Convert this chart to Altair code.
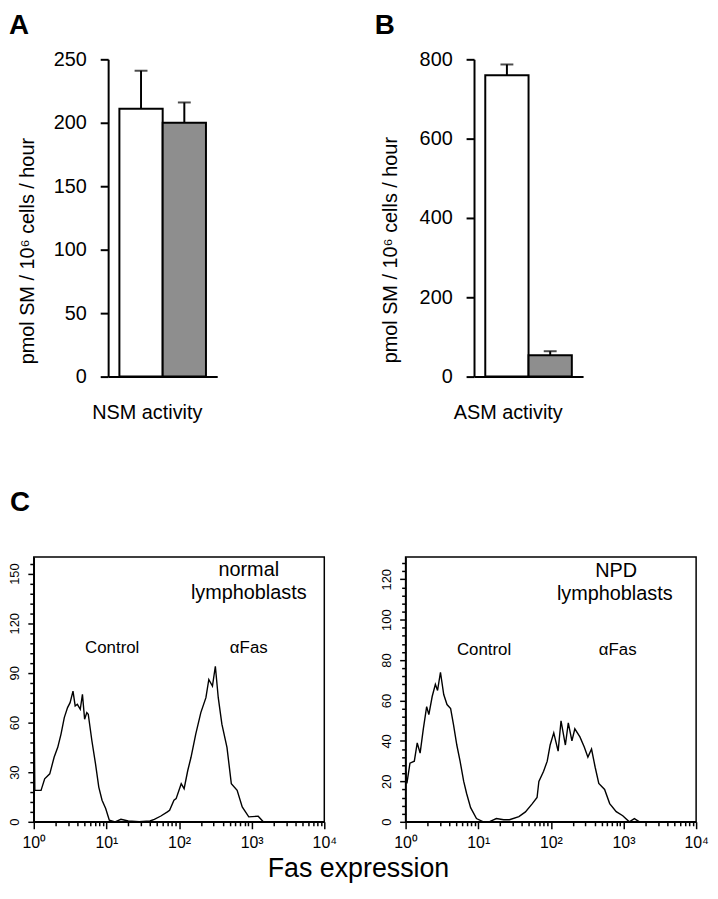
import altair as alt
import pandas as pd

FONT = "Liberation Sans, Arial, Helvetica, sans-serif"
NARROW = "Liberation Sans Narrow, Arial Narrow, Liberation Sans, sans-serif"

# ---------------- Panels A / B : sphingomyelinase activity ----------------
groups = ["normal", "NPD"]
bar_fill = ["#ffffff", "#8e8e8e"]
nsm_mean = [211, 200]
nsm_err = [30, 16]
asm_mean = [760, 54]
asm_err = [27, 10]

# ---------------- Panel C : Fas expression histograms (log10 intensity, count) ----------------
n_ctrl_lg = [0.0, 0.014, 0.10, 0.15, 0.22, 0.28, 0.33, 0.375, 0.42, 0.465, 0.50, 0.54, 0.57,
             0.60, 0.64, 0.67, 0.70, 0.73, 0.75, 0.80, 0.85, 0.895, 0.94, 0.99, 1.04, 1.12,
             1.20, 1.30, 1.45]
n_ctrl_ct = [88, 19, 19, 26, 29, 39, 45, 53, 63, 69, 72, 79, 70,
             71, 68, 77, 62, 66, 65, 49, 35, 21, 13, 8, 1, 0,
             1.5, 0.5, 0]
n_fas_lg = [1.45, 1.60, 1.66, 1.75, 1.84, 1.87, 1.93, 1.96, 2.03, 2.07, 2.12, 2.165, 2.23,
            2.30, 2.37, 2.41, 2.46, 2.50, 2.54, 2.59, 2.66, 2.72, 2.80, 2.87, 2.96, 3.09,
            3.16, 3.25]
n_fas_ct = [0, 0.5, 1.5, 3.5, 6, 7, 13, 14, 23, 20, 31, 39, 53,
            66, 75, 86, 82, 94, 75, 59, 45, 23, 19, 9, 3, 3.4,
            0, 0]

p_ctrl_lg = [0.0, 0.018, 0.06, 0.12, 0.16, 0.20, 0.244, 0.29, 0.32, 0.366, 0.41, 0.44,
             0.48, 0.525, 0.57, 0.62, 0.66, 0.705, 0.75, 0.80, 0.84, 0.895, 0.976, 1.07]
p_ctrl_ct = [25, 19, 29, 30, 39, 34, 46, 57, 53, 62, 68, 65,
             74, 63, 58, 56, 48, 38, 30, 20, 14, 7, 1.6, 0]
p_fas_lg = [1.07, 1.15, 1.25, 1.35, 1.43, 1.56, 1.65, 1.745, 1.81, 1.835, 1.90, 1.95, 1.99,
            2.04, 2.10, 2.14, 2.20, 2.24, 2.29, 2.33, 2.40, 2.46, 2.51, 2.56, 2.61, 2.66,
            2.74, 2.81, 2.90, 2.99, 3.08, 3.15, 3.22]
p_fas_ct = [0, 0, 1.6, 1, 1, 2.6, 4.9, 9, 12, 20, 25, 30, 38,
            44, 35, 50, 38, 49, 40, 46, 42, 37, 32, 36, 27, 19,
            16, 9, 5, 3, 0, 1.6, 0]

n_txt = ["normal", "lymphoblasts", "Control", "αFas"]
n_txt_lg = [2.96, 2.96, 1.08, 2.96]
n_txt_ct = [152, 138, 105, 105]
p_txt = ["NPD", "lymphoblasts", "Control", "αFas"]
p_txt_lg = [2.90, 2.88, 1.08, 2.92]
p_txt_ct = [124, 112.5, 85, 85]
txt_size = [20, 20, 17, 17]

x_ticks = [m * 10 ** e for e in range(4) for m in range(1, 10)] + [10000]
x_label_expr = ("datum.value == 1 ? '10⁰' : datum.value == 10 ? '10¹' : datum.value == 100 ? '10²' : "
                "datum.value == 1000 ? '10³' : datum.value == 10000 ? '10⁴' : ''")
x_major_test = ("datum.value == 1 || datum.value == 10 || datum.value == 100 || "
                "datum.value == 1000 || datum.value == 10000")

NO_FRAME = alt.ViewBackground(stroke="transparent", strokeWidth=0)


def bar_panel(mean, err, ymax, step, letter, xtitle, xtitle_x, ytitle_x, ytitle_y):
    df = pd.DataFrame({
        "group": groups,
        "mean": mean,
        "top": [m + e for m, e in zip(mean, err)],
        "fill": bar_fill,
    })
    x = alt.X("group:N", sort=groups,
              scale=alt.Scale(paddingInner=0, paddingOuter=0.26),
              axis=alt.Axis(labels=False, ticks=False, domain=True, domainColor="black",
                            domainWidth=2, title=xtitle, titleFont=FONT, titleFontSize=20,
                            titleFontWeight="normal", titleColor="black", titleX=xtitle_x,
                            titleY=36, titleAlign="center", titleBaseline="middle"))
    yscale = alt.Scale(domain=[0, ymax], nice=False, zero=True)
    yaxis = alt.Axis(values=list(range(0, ymax + 1, step)), tickSize=8, tickWidth=2,
                     tickColor="black", domainColor="black", domainWidth=2, labelFont=FONT,
                     labelFontSize=20, labelColor="black", labelPadding=14, grid=False,
                     title="pmol SM / 10⁶ cells / hour", titleFont=FONT, titleFontSize=20,
                     titleFontWeight="normal", titleColor="black", titleAngle=270,
                     titleX=ytitle_x, titleY=ytitle_y, titleAlign="center",
                     titleBaseline="middle")
    base = alt.Chart(df)
    rule = base.mark_rule(color="black", strokeWidth=2).encode(
        x=x, y=alt.Y("mean:Q", scale=yscale, axis=yaxis), y2="top:Q")
    bars = base.mark_bar(stroke="black", strokeWidth=2).encode(
        x=x, y=alt.Y("mean:Q", scale=yscale, axis=yaxis),
        fill=alt.Fill("fill:N", scale=None))
    cap = base.mark_tick(color="black", thickness=2, size=13).encode(
        x=x, y=alt.Y("top:Q", scale=yscale, axis=yaxis))
    return alt.layer(rule, bars, cap).properties(
        width=110, height=320, view=NO_FRAME,
        title=alt.TitleParams(letter, anchor="start", frame="group", dx=-100, offset=10,
                              font=FONT, fontSize=28, fontWeight="bold", color="black"))


def hist_panel(c_lg, c_ct, f_lg, f_ct, ymax, ystep, ymajor, t_txt, t_lg, t_ct, xtitle, title):
    df = pd.DataFrame({
        "lg": c_lg + f_lg,
        "ct": c_ct + f_ct,
        "s": ["Control"] * len(c_lg) + ["aFas"] * len(f_lg),
    })
    tdf = pd.DataFrame({"t": t_txt, "lg": t_lg, "ct": t_ct, "fs": txt_size})
    xscale = alt.Scale(type="log", domain=[1, 10000], nice=False)
    xaxis = alt.Axis(values=x_ticks, labelExpr=x_label_expr, labelOverlap=False,
                     labelFlush=False, labelFont=NARROW, labelFontSize=16, labelColor="black",
                     labelPadding=6, tickColor="black", tickWidth=1.5,
                     tickSize={"condition": {"test": x_major_test, "value": 7}, "value": 4},
                     domainColor="black", domainWidth=1.5, grid=False,
                     title=xtitle, titleFont=NARROW, titleFontSize=27, titleFontWeight="normal",
                     titleColor="black", titleX=327, titleY=47, titleAlign="center",
                     titleBaseline="middle")
    yscale = alt.Scale(domain=[0, ymax], nice=False, zero=True)
    yaxis = alt.Axis(values=list(range(0, int(ymax), ystep)),
                     labelExpr=f"datum.value % {ymajor} == 0 ? datum.label : ''",
                     labelOverlap=False, labelFont=NARROW, labelFontSize=13,
                     labelColor="black", labelAngle=270, labelAlign="center",
                     labelBaseline="bottom", labelPadding=6, tickColor="black", tickWidth=1.5,
                     tickSize={"condition": {"test": f"datum.value % {ymajor} == 0", "value": 6},
                               "value": 4},
                     domainColor="black", domainWidth=1.5, grid=False, title=None)
    line = alt.Chart(df).transform_calculate(v="pow(10, datum.lg)").mark_line(
        color="black", strokeWidth=1.4).encode(
        x=alt.X("v:Q", scale=xscale, axis=xaxis),
        y=alt.Y("ct:Q", scale=yscale, axis=yaxis),
        detail="s:N")
    text = alt.Chart(tdf).transform_calculate(v="pow(10, datum.lg)").mark_text(
        font=FONT, color="black", baseline="middle", align="center").encode(
        x=alt.X("v:Q", scale=xscale, axis=xaxis),
        y=alt.Y("ct:Q", scale=yscale, axis=yaxis),
        text="t:N",
        size=alt.Size("fs:Q", scale=None))
    props = dict(width=293, height=267,
                 view=alt.ViewBackground(stroke="black", strokeWidth=1.5))
    if title:
        props["title"] = alt.TitleParams(title, anchor="start", frame="group", dx=-24,
                                         offset=40, font=FONT, fontSize=28,
                                         fontWeight="bold", color="black")
    return alt.layer(line, text).properties(**props)


panel_a = bar_panel(nsm_mean, nsm_err, 250, 50, "A", "NSM activity", 39, -81, 193)
panel_b = bar_panel(asm_mean, asm_err, 800, 200, "B", "ASM activity", 34, -84, 192)
spacer = alt.Chart(pd.DataFrame({"a": [0]})).mark_point(opacity=0).properties(
    width=75, height=1, view=NO_FRAME)
top_row = alt.hconcat(
    spacer,
    alt.hconcat(panel_a, panel_b, spacing=259, bounds="flush"),
    spacing=0, bounds="flush")

h1 = hist_panel(n_ctrl_lg, n_ctrl_ct, n_fas_lg, n_fas_ct, 160, 6, 30,
                n_txt, n_txt_lg, n_txt_ct, "Fas  expression", "C")
h2 = hist_panel(p_ctrl_lg, p_ctrl_ct, p_fas_lg, p_fas_ct, 131, 4, 20,
                p_txt, p_txt_lg, p_txt_ct, None, None)
bottom_row = alt.hconcat(h1, h2, spacing=82, bounds="flush")

chart = alt.vconcat(top_row, bottom_row, spacing=502, bounds="flush").properties(
    padding=0,
).configure_view(stroke="transparent").configure(background="white")

chart.save("out.html", embed_options={"renderer": "svg", "actions": False})
